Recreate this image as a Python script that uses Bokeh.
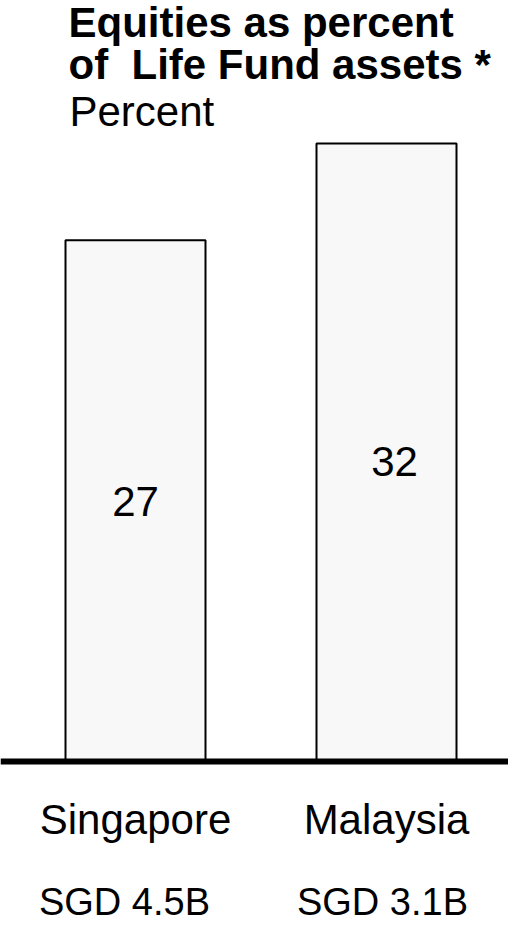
from bokeh.plotting import figure
from bokeh.models import ColumnDataSource, Range1d, Span, Label
from bokeh.core.properties import value
from bokeh.embed import file_html
from bokeh.resources import INLINE

# ---- data ----
countries = ["Singapore", "Malaysia"]
equity_pct = [27, 32]
fund_sizes = ["SGD 4.5B", "SGD 3.1B"]
title_lines = ["Equities as percent", "of \u00a0Life Fund assets *"]
unit_label = "Percent"

# ---- layout (figure pixel coordinates) ----
W, H = 508, 925
PX_PER_UNIT = 19.31
PX_PER_CAT = 251.0
base_y = 761
first_center_x = 135
TXT_SHIFT = 16  # compensation for text baseline placement

y_start = (base_y - H) / PX_PER_UNIT
y_end = base_y / PX_PER_UNIT
x_start = (0 - first_center_x) / PX_PER_CAT
x_end = (W - first_center_x) / PX_PER_CAT

def py(pix_y):
    return (base_y - (pix_y - TXT_SHIFT)) / PX_PER_UNIT

xs = list(range(len(countries)))
src = ColumnDataSource(dict(
    x=xs,
    top=equity_pct,
    lbl=[str(v) for v in equity_pct],
    lbl_y=[py(517), py(477)],
    lbl_dx=[0, 8],
    name=countries,
    name_y=[py(835)] * len(countries),
    size=fund_sizes,
    size_y=[py(917)] * len(countries),
    size_dx=[-11, -4],
))

p = figure(width=W, height=H, output_backend="svg", toolbar_location=None,
           x_range=Range1d(x_start, x_end), y_range=Range1d(y_start, y_end),
           min_border=0, min_border_left=0, min_border_right=0,
           min_border_top=0, min_border_bottom=0)
p.axis.visible = False
p.grid.visible = False
p.outline_line_color = None
p.background_fill_color = "white"
p.border_fill_color = "white"

p.vbar(x="x", top="top", bottom=0, width=140 / PX_PER_CAT, source=src,
       fill_color="#f8f8f8", line_color="black", line_width=2)

p.add_layout(Span(location=0, dimension="width", line_color="black",
                  line_width=6))

FONT = "Liberation Sans"
p.text(x="x", y="lbl_y", text="lbl", x_offset="lbl_dx", source=src,
       text_font=value(FONT), text_font_size="42px", text_align="center",
       text_baseline="alphabetic", text_color="black")
p.text(x="x", y="name_y", text="name", source=src,
       text_font=value(FONT), text_font_size="42px", text_align="center",
       text_baseline="alphabetic", text_color="black")
p.text(x="x", y="size_y", text="size", x_offset="size_dx", source=src,
       text_font=value(FONT), text_font_size="38px", text_align="center",
       text_baseline="alphabetic", text_color="black")

title_x = 68
for i, t in enumerate(title_lines):
    p.add_layout(Label(x=title_x, y=H - (38 + 42 * i - TXT_SHIFT), x_units="screen", y_units="screen",
                       text=t, text_font=FONT, text_font_size="42px",
                       text_font_style="bold", text_baseline="alphabetic",
                       text_color="black"))
p.add_layout(Label(x=title_x + 1, y=H - (127 - TXT_SHIFT), x_units="screen", y_units="screen",
                   text=unit_label, text_font=FONT, text_font_size="42px",
                   text_baseline="alphabetic", text_color="black"))

open("out.html", "w").write(file_html(p, INLINE))
